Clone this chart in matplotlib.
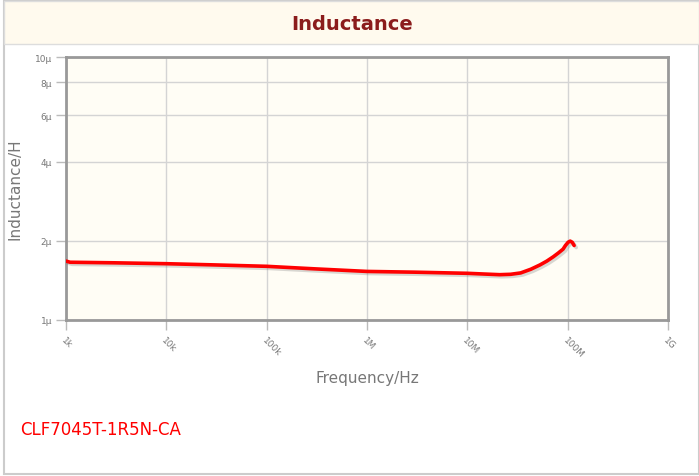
import matplotlib.pyplot as plt
import matplotlib.patches as mplpatches
import matplotlib.patheffects as pe
import numpy as np

# curve (Hz, H)
freq = [1.0e3, 1.1e3, 3e3, 1e4, 3e4, 1e5, 3e5, 1e6, 3e6, 1e7, 1.5e7, 2.1e7, 2.7e7, 3.4e7,
        4.3e7, 5.3e7, 6.2e7, 7.2e7, 8.1e7, 9.0e7, 9.5e7, 1.01e8, 1.06e8, 1.11e8, 1.16e8]
induct = [1.675e-6, 1.658e-6, 1.65e-6, 1.637e-6, 1.62e-6, 1.60e-6, 1.565e-6, 1.53e-6, 1.52e-6,
          1.505e-6, 1.495e-6, 1.487e-6, 1.492e-6, 1.51e-6, 1.56e-6, 1.62e-6, 1.675e-6, 1.74e-6,
          1.80e-6, 1.86e-6, 1.92e-6, 1.975e-6, 1.995e-6, 1.975e-6, 1.92e-6]

xticks = [1e3, 1e4, 1e5, 1e6, 1e7, 1e8, 1e9]
xticklabels = ['1k', '10k', '100k', '1M', '10M', '100M', '1G']
yticks = [1e-6, 2e-6, 4e-6, 6e-6, 8e-6, 1e-5]
yticklabels = ['1µ', '2µ', '4µ', '6µ', '8µ', '10µ']
part = 'CLF7045T-1R5N-CA'

figureWidth = 6.99
figureHeight = 4.77
W = 699
H = 477
fig = plt.figure(figsize=(figureWidth, figureHeight), dpi=100)

# outer box and header band
fig.patches.append(mplpatches.Rectangle((4 / W, 2 / H), 695 / W, 473 / H, transform=fig.transFigure,
                                        facecolor='white', edgecolor='#cccccc', linewidth=1.5, zorder=-3))
fig.patches.append(mplpatches.Rectangle((4 / W, (H - 45) / H), 695 / W, 43 / H, transform=fig.transFigure,
                                        facecolor='#fffaee', edgecolor='#dddddd', linewidth=1, zorder=-2))
fig.text(352 / W, 1 - 24 / H, 'Inductance', ha='center', va='center', fontsize=14,
         fontweight='bold', color='#8b1c1c', family='DejaVu Sans')

left, right, top, bottom = 66, 668, 58, 321
ax = fig.add_axes([left / W, 1 - bottom / H, (right - left) / W, (bottom - top) / H])
ax.set_facecolor('#fffdf5')
ax.set_xscale('log')
ax.set_yscale('log')
ax.set_xlim(1e3, 1e9)
ax.set_ylim(1e-6, 1e-5)

ax.plot(freq, induct, color='red', linewidth=2.6, solid_capstyle='round', solid_joinstyle='round',
        path_effects=[pe.SimpleLineShadow(offset=(1.5, -1.5), shadow_color='gray', alpha=0.3),
                      pe.Normal()], zorder=3)

ax.set_xticks(xticks)
ax.set_xticklabels(xticklabels, rotation=-45, ha='left', va='top', fontsize=6.5, color='#777777',
                   rotation_mode='anchor')
ax.set_yticks(yticks)
ax.set_yticklabels(yticklabels, fontsize=6.5, color='#777777')
ax.minorticks_off()
ax.tick_params(axis='both', length=7, width=1, color='#bbbbbb', direction='out')
ax.tick_params(axis='x', pad=4)
ax.tick_params(axis='y', pad=3)
ax.grid(True, color='#d4d4d4', linewidth=1)
ax.set_axisbelow(True)
for s in ax.spines.values():
    s.set_color('#999999')
    s.set_linewidth(2)

ax.set_ylabel('Inductance/H', fontsize=11, color='#777777', labelpad=9)
ax.set_xlabel('Frequency/Hz', fontsize=11, color='#777777', labelpad=8)

fig.text(20 / W, 1 - 430 / H, part, ha='left', va='center', fontsize=12, color='red')

plt.savefig('out.png', dpi=100)
